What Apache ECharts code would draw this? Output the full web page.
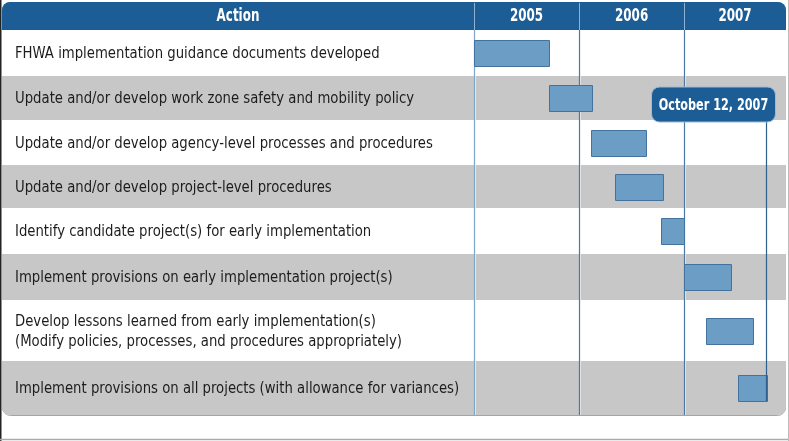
<!DOCTYPE html>
<html><head><meta charset="utf-8">
<script src="https://cdn.jsdelivr.net/npm/echarts/dist/echarts.min.js"></script>
<style>html,body{margin:0;padding:0;background:#fff}#c{width:789px;height:441px}</style>
</head><body><div id="c"></div>
<script>
// ---------- data ----------
const headerLabel = 'Action';
const yearLabels = ['2005', '2006', '2007'];
const actions = [
  'FHWA implementation guidance documents developed',
  'Update and/or develop work zone safety and mobility policy',
  'Update and/or develop agency-level processes and procedures',
  'Update and/or develop project-level procedures',
  'Identify candidate project(s) for early implementation',
  'Implement provisions on early implementation project(s)',
  'Develop lessons learned from early implementation(s)\n(Modify policies, processes, and procedures appropriately)',
  'Implement provisions on all projects (with allowance for variances)'
];
const startDates = [2005.00, 2005.71, 2006.11, 2006.34, 2006.78, 2007.00, 2007.21, 2007.51];
const endDates   = [2005.71, 2006.12, 2006.63, 2006.80, 2007.00, 2007.45, 2007.66, 2007.79];
const milestoneLabel = 'October 12, 2007';
const milestoneDate = 2007.78;

// ---------- layout ----------
const FONT = '"DejaVu Sans Condensed", "Liberation Sans Narrow", sans-serif';
const tableTop = 2, headerBottom = 30;
const rowHeights = [46, 44, 45, 43, 46, 46, 61, 54];
const rowTops = [];
{ let t = headerBottom; rowHeights.forEach(h => { rowTops.push(t); t += h; }); }
const tableBottom = rowTops[rowTops.length - 1] + rowHeights[rowHeights.length - 1];
const labelColWidth = 472;
const firstYear = +yearLabels[0];
const xMin = firstYear, xMax = +yearLabels[yearLabels.length - 1] + 0.97;
const barH = 26;
const HEADER_BLUE = '#1d5d95';

const chart = echarts.init(document.getElementById('c'), null, { renderer: 'canvas' });

function headerItem(params, api) {
  const cs = params.coordSys;
  const left = cs.x - labelColWidth, right = cs.x + cs.width;
  const top = api.coord([xMin, tableTop])[1], bot = api.coord([xMin, headerBottom])[1];
  return { type: 'group', children: [
    { type: 'rect', shape: { x: left, y: top, width: right - left, height: bot - top, r: [8, 8, 0, 0] },
      style: { fill: HEADER_BLUE } },
    { type: 'text', x: left + labelColWidth / 2, y: (top + bot) / 2 + 1, scaleX: 0.78,
      style: { x: 0, y: 0, text: headerLabel,
      font: 'bold 17px ' + FONT, fill: '#fff', align: 'center', verticalAlign: 'middle' } }
  ]};
}

function rowItem(params, api) {
  const i = api.value(0);
  const cs = params.coordSys;
  const left = cs.x - labelColWidth, right = cs.x + cs.width;
  const top = api.coord([xMin, rowTops[i]])[1];
  const bot = api.coord([xMin, rowTops[i] + rowHeights[i]])[1];
  const last = i === actions.length - 1;
  return { type: 'group', children: [
    { type: 'rect', shape: { x: left, y: top, width: right - left, height: bot - top, r: last ? [0, 0, 8, 8] : 0 },
      style: { fill: i % 2 ? '#c7c7c7' : '#ffffff' } },
    { type: 'text', x: left + 13, y: (top + bot) / 2 + 1, scaleX: 0.92,
      style: { x: 0, y: 0, text: actions[i],
      font: '16px ' + FONT, fill: '#1c1c1c', verticalAlign: 'middle', lineHeight: 20 } }
  ]};
}

function yearItem(params, api) {
  const yr = api.value(0);
  const x = Math.round(api.coord([yr, 0])[0]) + 0.5;
  const top = api.coord([xMin, tableTop])[1], hb = api.coord([xMin, headerBottom])[1];
  const bot = api.coord([xMin, tableBottom])[1];
  const cx = api.coord([Math.min(yr + 0.5, (yr + xMax) / 2), 0])[0];
  const first = params.dataIndex === 0;
  return { type: 'group', children: [
    { type: 'line', shape: { x1: x, y1: top + 1, x2: x, y2: hb }, style: { stroke: '#8fb1d2', lineWidth: 1 } },
    { type: 'line', shape: { x1: x + 1, y1: hb, x2: x + 1, y2: bot }, style: { stroke: 'rgba(255,255,255,0.7)', lineWidth: 1 } },
    { type: 'line', shape: { x1: x, y1: hb, x2: x, y2: bot }, style: { stroke: first ? '#7ea6cc' : '#4c79a4', lineWidth: 1.2 } },
    { type: 'text', x: cx, y: (top + hb) / 2 + 1, scaleX: 0.78,
      style: { x: 0, y: 0, text: yearLabels[params.dataIndex],
      font: 'bold 17px ' + FONT, fill: '#fff', align: 'center', verticalAlign: 'middle' } }
  ]};
}

function barItem(params, api) {
  const i = api.value(2);
  const mid = rowTops[i] + rowHeights[i] / 2;
  const s = api.coord([api.value(0), mid]);
  const e = api.coord([api.value(1), mid]);
  return { type: 'rect', shape: { x: Math.round(s[0]) + 0.5, y: Math.round(s[1] - barH / 2) + 0.5, width: Math.round(e[0] - s[0]), height: barH },
    style: { fill: '#6b9dc5', stroke: '#44729f', lineWidth: 1 } };
}

function milestoneItem(params, api) {
  const last = actions.length - 1;
  const lx = Math.round(api.coord([api.value(0), 0])[0]) + 0.5;
  const bubTop = api.coord([xMin, 87])[1], bubBot = api.coord([xMin, 122])[1];
  const lineBot = api.coord([xMin, rowTops[last] + rowHeights[last] / 2 + barH / 2])[1];
  return { type: 'group', children: [
    { type: 'line', shape: { x1: lx, y1: bubBot, x2: lx, y2: lineBot }, style: { stroke: '#2f5f8f', lineWidth: 1.2 } },
    { type: 'rect', shape: { x: lx - 115, y: bubTop, width: 124, height: bubBot - bubTop, r: 8 },
      style: { fill: HEADER_BLUE, stroke: '#9dbad6', lineWidth: 1 } },
    { type: 'text', x: lx - 53, y: (bubTop + bubBot) / 2 + 1, scaleX: 0.78,
      style: { x: 0, y: 0, text: milestoneLabel,
      font: 'bold 16px ' + FONT, fill: '#fff', align: 'center', verticalAlign: 'middle' } }
  ]};
}

function outlineItem(params, api) {
  const cs = params.coordSys;
  const left = cs.x - labelColWidth, right = cs.x + cs.width;
  const top = api.coord([xMin, tableTop])[1], bot = api.coord([xMin, tableBottom])[1];
  return { type: 'rect', shape: { x: left + 0.5, y: top + 0.5, width: right - left - 1, height: bot - top, r: 8 },
    style: { fill: 'none', stroke: '#9aa6b2', lineWidth: 1 } };
}

chart.setOption({
  animation: false,
  backgroundColor: '#ffffff',
  grid: { left: 474, top: 0, width: 312, height: 415 },
  xAxis: { type: 'value', min: xMin, max: xMax, show: false },
  yAxis: { type: 'value', min: 0, max: 415, inverse: true, show: false },
  graphic: [
    { type: 'line', shape: { x1: 0.5, y1: 0, x2: 0.5, y2: 441 }, style: { stroke: '#222', lineWidth: 2 } },
    { type: 'line', shape: { x1: 0, y1: 439.5, x2: 789, y2: 439.5 }, style: { stroke: '#aaa', lineWidth: 1.5 } },
    { type: 'line', shape: { x1: 788.5, y1: 0, x2: 788.5, y2: 441 }, style: { stroke: '#bbb', lineWidth: 1 } }
  ],
  series: [
    { type: 'custom', name: 'outline', z: 0, clip: false, renderItem: outlineItem, data: [[0]] },
    { type: 'custom', name: 'header', z: 1, clip: false, renderItem: headerItem, data: [[0]] },
    { type: 'custom', name: 'rows', z: 1, clip: false, renderItem: rowItem, data: actions.map((a, i) => [i]) },
    { type: 'custom', name: 'years', z: 2, clip: false, renderItem: yearItem, data: yearLabels.map(y => [+y]) },
    { type: 'custom', name: 'tasks', z: 3, clip: false, renderItem: barItem,
      data: actions.map((a, i) => [startDates[i], endDates[i], i]) },
    { type: 'custom', name: 'milestone', z: 4, clip: false, renderItem: milestoneItem, data: [[milestoneDate]] }
  ]
});
</script>
</body></html>
